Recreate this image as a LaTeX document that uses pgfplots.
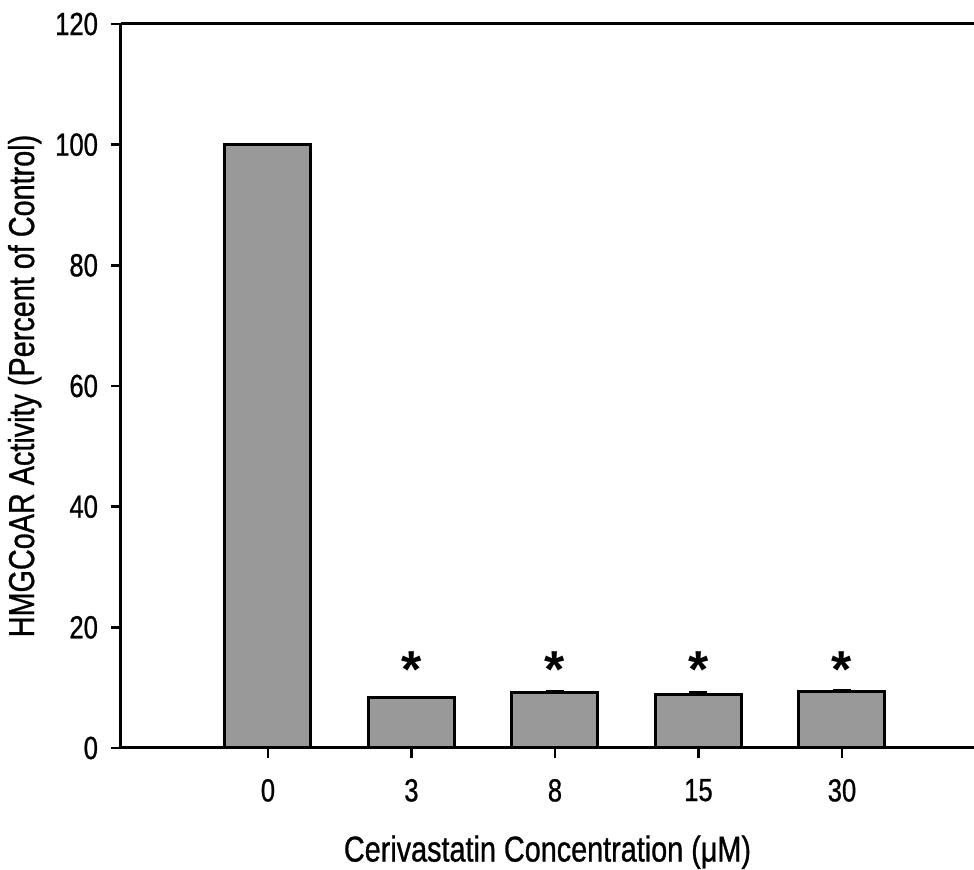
\documentclass[border=0pt]{standalone}
\usepackage{pgfplots}
\pgfplotsset{compat=1.18}
\usepackage{fontspec}
\setmainfont{Liberation Sans}
\newfontfamily\tickfont{Liberation Sans}[FakeStretch=0.8,FakeBold=0.8]
\newfontfamily\labfont{Liberation Sans}[FakeStretch=0.8,FakeBold=0.8]
\definecolor{barfill}{rgb}{0.6,0.6,0.6}
\begin{document}
\begin{tikzpicture}
\begin{axis}[
  name=ax,
  scale only axis,
  width=426.5pt, height=362pt,
  xmin=-1.024, xmax=4.92,
  ymin=0, ymax=120,
  axis line style={draw=none},
  xtick={0,1,2,3,4},
  xticklabels={0,3,8,15,30},
  ytick={0,20,40,60,80,100,120},
  xtick pos=bottom, ytick pos=left,
  tick align=outside,
  major tick length=5pt,
  tick style={line width=1.3pt, black},
  /pgf/number format/assume math mode=true,
  ticklabel style={font=\tickfont\fontsize{16}{18}\selectfont},
  xticklabel style={yshift=-7pt},
  yticklabel style={xshift=-3pt},
  xlabel={Cerivastatin Concentration (μM)},
  ylabel={HMGCoAR Activity (Percent of Control)},
  label style={font=\labfont\fontsize{18}{20}\selectfont},
  xlabel style={yshift=-10pt},
  ylabel style={yshift=0pt},
  clip=false,
]
\addplot[ybar, bar width=43pt, fill=barfill, draw=black, line width=1.5pt,
  error bars/.cd, y dir=plus, y explicit,
  error bar style={line width=1pt},
  error mark options={rotate=90, mark size=4.5pt, line width=1.2pt}]
  coordinates {(0,100) +- (0,0.1) (1,8.3) +- (0,0.15) (2,9.2) +- (0,0.2) (3,8.8) +- (0,0.45) (4,9.3) +- (0,0.3)};
\addplot[draw=none, mark=none, nodes near coords={\fontsize{26}{26}\selectfont\bfseries *},
  every node near coord/.append style={anchor=center}]
  coordinates {(1,13.0) (2,13.0) (3,13.0) (4,13.0)};
\draw[line width=1.5pt] (rel axis cs:0,1) -- (rel axis cs:0,0) -- (rel axis cs:1,0);
\draw[line width=1.5pt] (rel axis cs:0,1) -- (rel axis cs:1,1);
\end{axis}
\pgfresetboundingbox
\path ([xshift=-60.5pt,yshift=-61pt]ax.south west) rectangle ([yshift=12pt]ax.north east);
\end{tikzpicture}
\end{document}
